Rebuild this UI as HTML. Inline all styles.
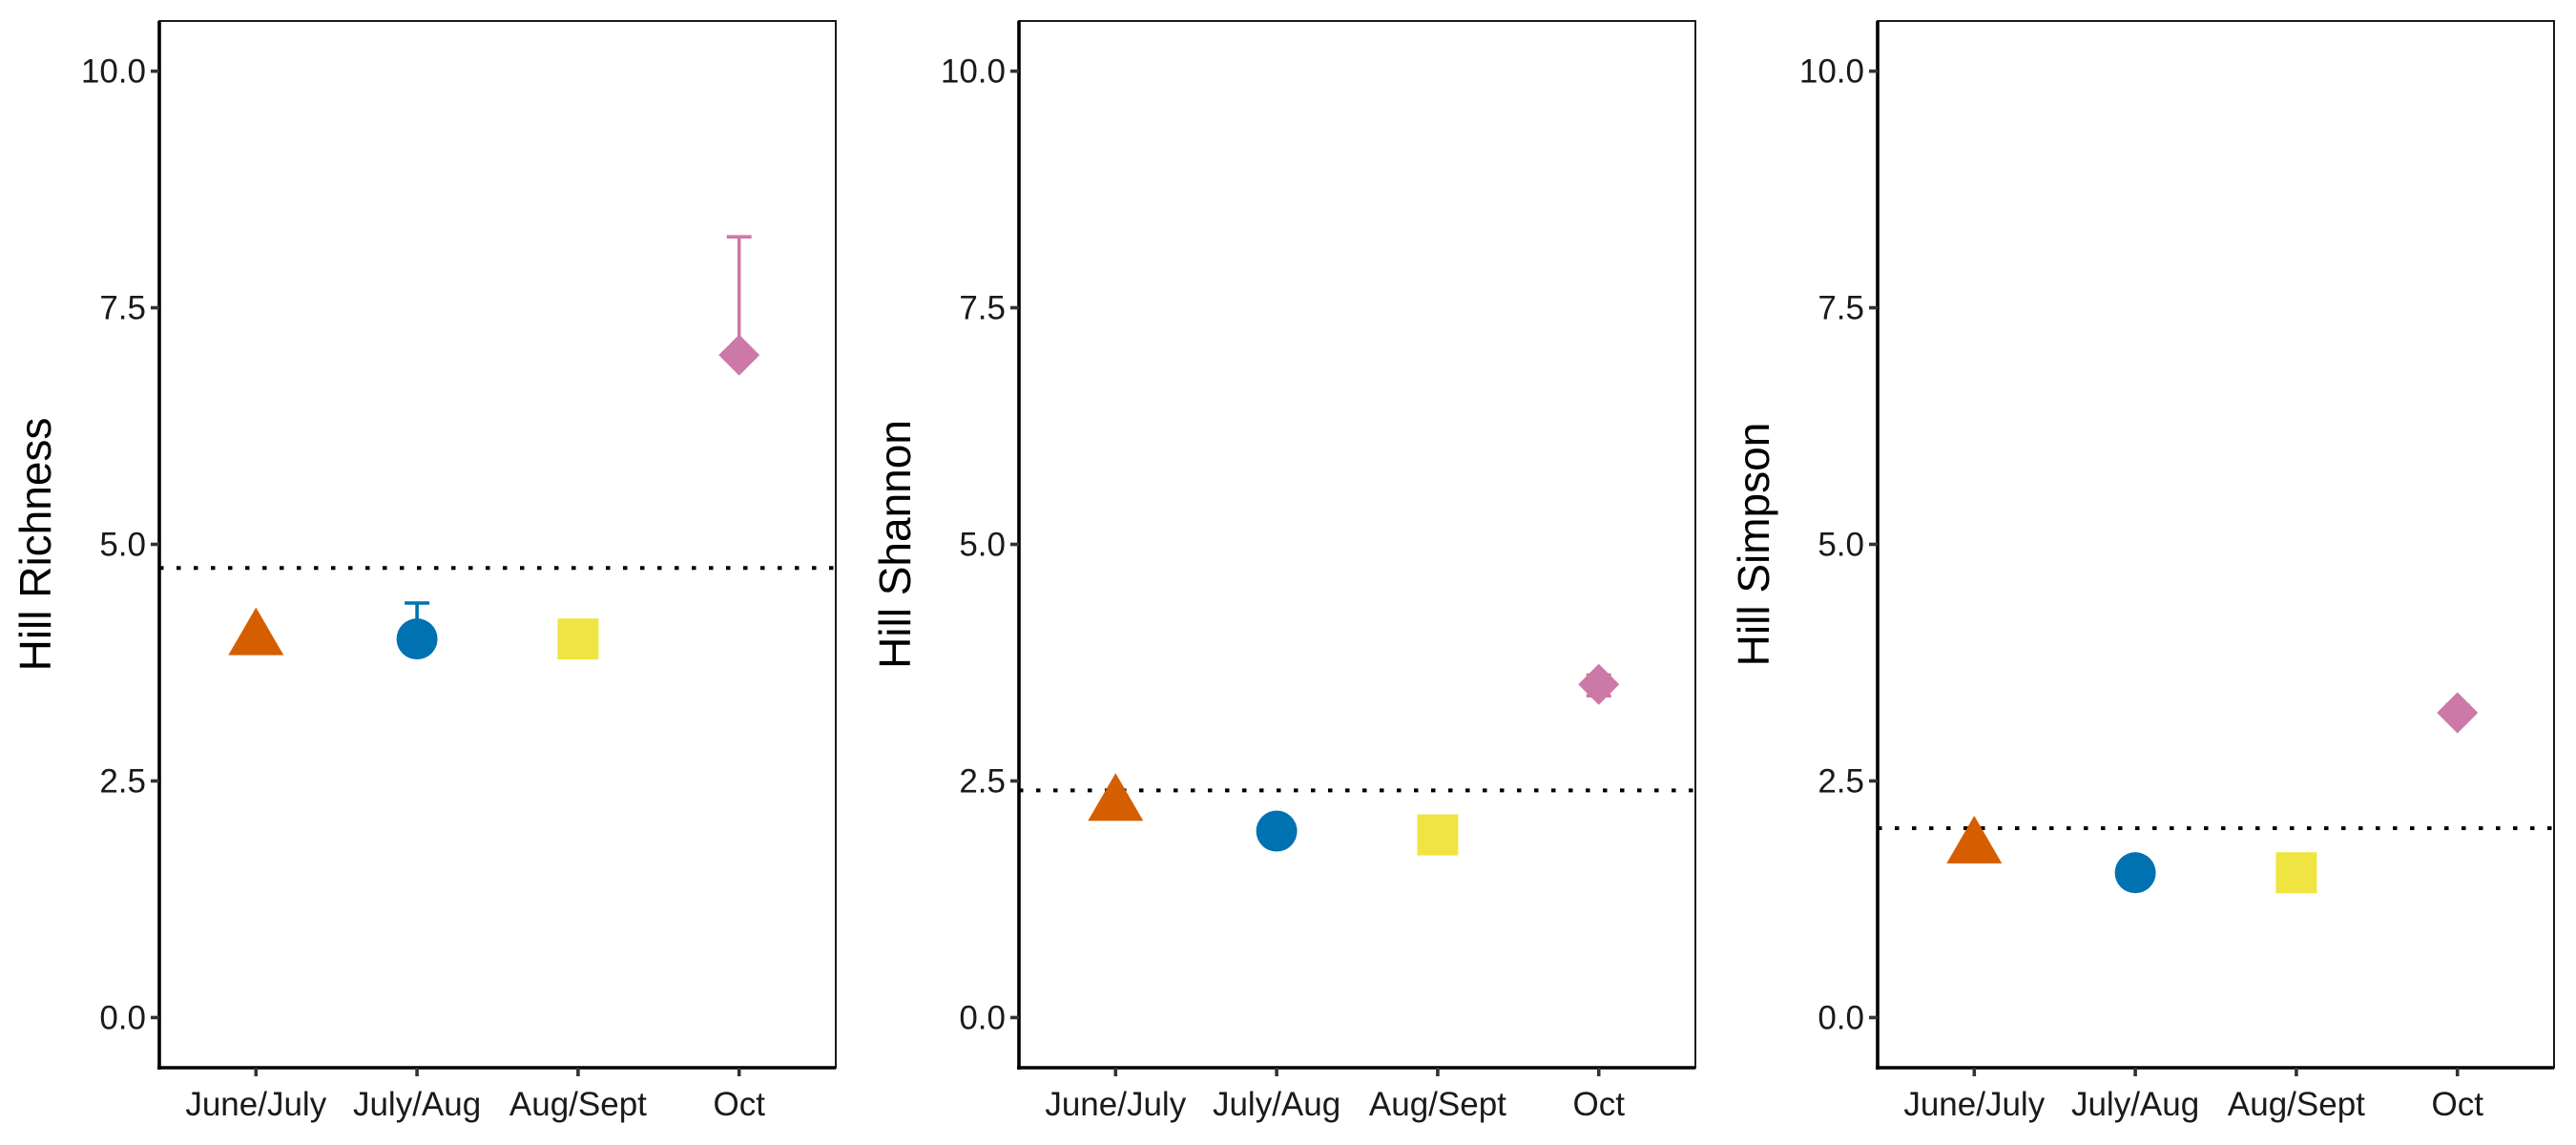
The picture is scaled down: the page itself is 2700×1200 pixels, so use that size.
<!DOCTYPE html>
<html><head><meta charset="utf-8"><style>
html,body{margin:0;padding:0;background:#fff;}
svg{display:block;font-family:"Liberation Sans",Arial,sans-serif;}
</style></head><body>
<svg id="chart" width="2700" height="1200" viewBox="0 0 2700 1200" xmlns="http://www.w3.org/2000/svg"></svg>
<script>
const categories = ["June/July","July/Aug","Aug/Sept","Oct"];
const panelTitles = ["Hill Richness","Hill Shannon","Hill Simpson"];
const richnessMean = [4.0, 4.0, 4.0, 7.0];
const richnessMin = [4.0, 4.0, 4.0, 7.0];
const richnessMax = [4.0, 4.38, 4.0, 8.25];
const shannonMean = [2.25, 1.97, 1.93, 3.52];
const shannonMin = [2.25, 1.85, 1.93, 3.4];
const shannonMax = [2.25, 2.08, 1.93, 3.62];
const simpsonMean = [1.8, 1.53, 1.53, 3.22];
const simpsonMin = [1.8, 1.53, 1.53, 3.15];
const simpsonMax = [1.8, 1.53, 1.53, 3.3];
const referenceLines = [4.75, 2.4, 2.0];
const yTicks = [0, 2.5, 5, 7.5, 10];
const yTickLabels = ["0.0","2.5","5.0","7.5","10.0"];

const means = [richnessMean, shannonMean, simpsonMean];
const mins = [richnessMin, shannonMin, simpsonMin];
const maxs = [richnessMax, shannonMax, simpsonMax];
const colors = ["#D55E00","#0072B2","#F0E442","#CC79A7"];
const shapes = ["triangle","circle","square","diamond"];
const panelLeft = [167, 1068, 1968];
const panelW = 709;
const plotTop = 22, plotBottom = 1119;
const yMin = -0.53, yMax = 10.53;
const NS = "http://www.w3.org/2000/svg";
const svgRoot = document.getElementById('chart');
function mk(tag, attrs, parent){
  const e = document.createElementNS(NS, tag);
  for (const k in attrs) e.setAttribute(k, attrs[k]);
  (parent||svgRoot).appendChild(e);
  return e;
}
function yScale(v){ return plotBottom - (v - yMin)/(yMax - yMin)*(plotBottom - plotTop); }
function xScale(p, i){ return panelLeft[p] + (i + 0.6)/4.2*panelW; }

for (let p = 0; p < 3; p++) {
  const g = mk('g', {});
  
  
  const L = panelLeft[p], R = L + panelW;
  const fr = mk('rect', {x:L, y:plotTop, width:panelW, height:plotBottom-plotTop, fill:'none', stroke:'#000', 'stroke-width':1.8}, g);
  
  
  const ya = mk('line', {x1:L, y1:plotTop, x2:L, y2:plotBottom+2, stroke:'#000', 'stroke-width':3.6}, g);
  
  
  const xa = mk('line', {x1:L-2, y1:plotBottom, x2:R, y2:plotBottom, stroke:'#000', 'stroke-width':3.6}, g);
  
  
  yTicks.forEach((t, k) => {
    const y = yScale(t);
    const tk = mk('line', {x1:L-9, y1:y, x2:L, y2:y, stroke:'#333', 'stroke-width':3.6}, g);
    
    
    const tx = mk('text', {x:L-14, y:y+12, 'text-anchor':'end', 'font-size':35, fill:'#1a1a1a'}, g);
    tx.textContent = yTickLabels[k];
    
    
  });
  categories.forEach((c, i) => {
    const x = xScale(p, i);
    const tk = mk('line', {x1:x, y1:plotBottom, x2:x, y2:plotBottom+9, stroke:'#333', 'stroke-width':3.6}, g);
    
    
    const tx = mk('text', {x:x, y:plotBottom+50, 'text-anchor':'middle', 'font-size':35, fill:'#1a1a1a'}, g);
    tx.textContent = c;
    
    
  });
  const cy = (plotTop + plotBottom)/2;
  const tx0 = L - 114;
  const yt = mk('text', {x:tx0, y:cy, transform:'rotate(-90 '+tx0+' '+cy+')', 'text-anchor':'middle', 'font-size':46, fill:'#000'}, g);
  yt.textContent = panelTitles[p];
  
  
  const ry = yScale(referenceLines[p]);
  const rl = mk('line', {x1:L, y1:ry, x2:R, y2:ry, stroke:'#000', 'stroke-width':4, 'stroke-dasharray':'4.5 13.5'}, g);
  
  
  for (let i = 0; i < 4; i++) {
    const x = xScale(p, i), y = yScale(means[p][i]);
    const ymn = yScale(mins[p][i]), ymx = yScale(maxs[p][i]);
    const col = colors[i];
    if (maxs[p][i] !== mins[p][i]) {
      const eb = mk('path', {d:`M${x-13},${ymx}H${x+13}M${x},${ymx}V${ymn}M${x-13},${ymn}H${x+13}`, stroke:col, 'stroke-width':3.6, fill:'none'}, g);
      
      
    }
    let m;
    if (shapes[i] === 'triangle') m = mk('polygon', {points:`${x},${y-33} ${x-29},${y+17} ${x+29},${y+17}`, fill:col}, g);
    else if (shapes[i] === 'circle') m = mk('circle', {cx:x, cy:y, r:21.5, fill:col}, g);
    else if (shapes[i] === 'square') m = mk('rect', {x:x-21.5, y:y-21.5, width:43, height:43, fill:col}, g);
    else m = mk('polygon', {points:`${x},${y-21.5} ${x+21.5},${y} ${x},${y+21.5} ${x-21.5},${y}`, fill:col}, g);
    
    
  }
}
</script>
</body></html>
